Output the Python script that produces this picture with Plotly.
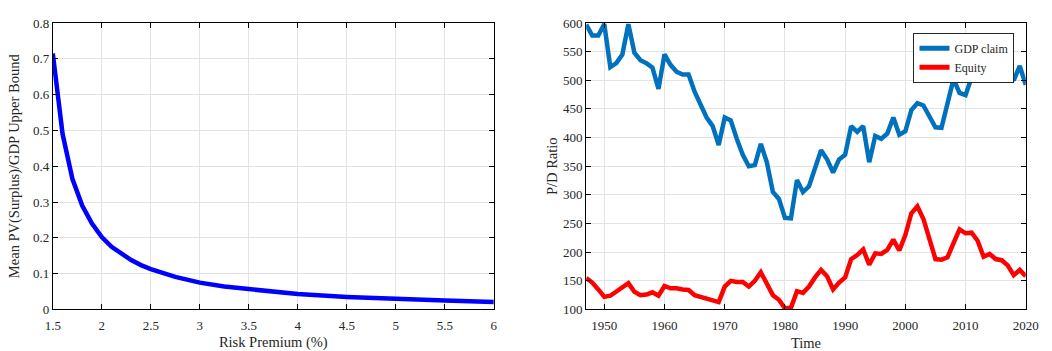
import plotly.graph_objects as go

# ---- Left panel data ----
risk_premium = [1.5, 1.6, 1.7, 1.8, 1.9, 2.0, 2.1, 2.2, 2.3, 2.4, 2.5, 2.75, 3.0,
                3.25, 3.5, 3.75, 4.0, 4.5, 5.0, 5.5, 6.0]
pv_surplus = [0.715, 0.49, 0.365, 0.29, 0.24, 0.202, 0.175, 0.155, 0.138, 0.124,
              0.113, 0.091, 0.075, 0.064, 0.056, 0.049, 0.043, 0.035, 0.029, 0.025, 0.021]

# ---- Right panel data ----
years = list(range(1947, 2021))
gdp_claim = [597, 578, 578, 598, 523, 530, 545, 598, 548, 535,
             530, 522, 485, 545, 527, 515, 510, 510, 480, 455,
             435, 420, 387, 435, 430, 398, 370, 350, 352, 389,
             357, 305, 293, 260, 259, 326, 305, 315, 345, 378,
             362, 339, 362, 370, 420, 410, 420, 357, 403, 398,
             407, 435, 405, 411, 448, 460, 456, 438, 418, 417,
             460, 502, 478, 474, 505, 522, 540, 550, 548, 540,
             517, 500, 525, 492]
equity = [155, 147, 135, 122, 124, 131, 140, 146, 131, 125,
          126, 130, 124, 141, 137, 137, 135, 134, 125, 122,
          119, 118, 113, 140, 150, 148, 148, 140, 150, 165,
          145, 125, 117, 102, 103, 132, 129, 140, 156, 169,
          158, 135, 147, 156, 188, 195, 205, 178, 198, 197,
          204, 222, 203, 230, 268, 280, 258, 226, 188, 187,
          191, 216, 240, 233, 234, 220, 192, 197, 188, 186,
          177, 160, 169, 158]

FONT = "Liberation Serif"
TXT = "#262626"
GRID = "#e3e3e3"

fig = go.Figure()
fig.add_trace(go.Scatter(x=risk_premium, y=pv_surplus, mode="lines",
                         line=dict(color="#0000FF", width=4.5),
                         showlegend=False, xaxis="x", yaxis="y"))
fig.add_trace(go.Scatter(x=years, y=gdp_claim, mode="lines", name="GDP claim",
                         line=dict(color="#0072BD", width=4.5),
                         xaxis="x2", yaxis="y2"))
fig.add_trace(go.Scatter(x=years, y=equity, mode="lines", name="Equity",
                         line=dict(color="#FF0000", width=4.5),
                         xaxis="x2", yaxis="y2"))

ydom = [1 - 316 / 351, 1 - 16.7 / 351]
common = dict(showline=True, linecolor="black", linewidth=1, mirror="ticks",
              ticks="inside", ticklen=5, tickcolor="black", showgrid=True,
              gridcolor=GRID, gridwidth=1, zeroline=False,
              tickfont=dict(family=FONT, size=13, color=TXT))
xcommon = dict(common, ticklabelstandoff=4)
tfont = dict(family=FONT, size=14.5, color=TXT)

fig.update_layout(
    width=1052, height=351,
    margin=dict(l=0, r=0, t=0, b=0),
    paper_bgcolor="white", plot_bgcolor="white",
    font=dict(family=FONT, size=13, color=TXT),
    xaxis=dict(domain=[45.7 / 1052, 495.7 / 1052], range=[1.5, 6], dtick=0.5,
               tick0=1.5, anchor="y",
               title=dict(text="Risk Premium (%)", font=tfont, standoff=8),
               **xcommon),
    yaxis=dict(domain=ydom, range=[0, 0.8], dtick=0.1, anchor="x",
               title=dict(text="Mean PV(Surplus)/GDP Upper Bound", font=tfont,
                          standoff=9),
               **common),
    xaxis2=dict(domain=[590 / 1052, 1038.5 / 1052], range=[1947, 2020],
                tickvals=[1950, 1960, 1970, 1980, 1990, 2000, 2010, 2020],
                anchor="y2",
                title=dict(text="Time", font=tfont, standoff=8),
                **xcommon),
    yaxis2=dict(domain=ydom, range=[100, 600], dtick=50, anchor="x2",
                title=dict(text="P/D Ratio", font=tfont, standoff=2),
                **common),
    legend=dict(x=1027 / 1052, xanchor="right", y=1 - 27 / 351, yanchor="top",
                bgcolor="white", bordercolor="#262626", borderwidth=1,
                font=dict(family=FONT, size=12, color=TXT),
                tracegroupgap=0, itemsizing="constant"),
)

fig.write_html("out.html")
